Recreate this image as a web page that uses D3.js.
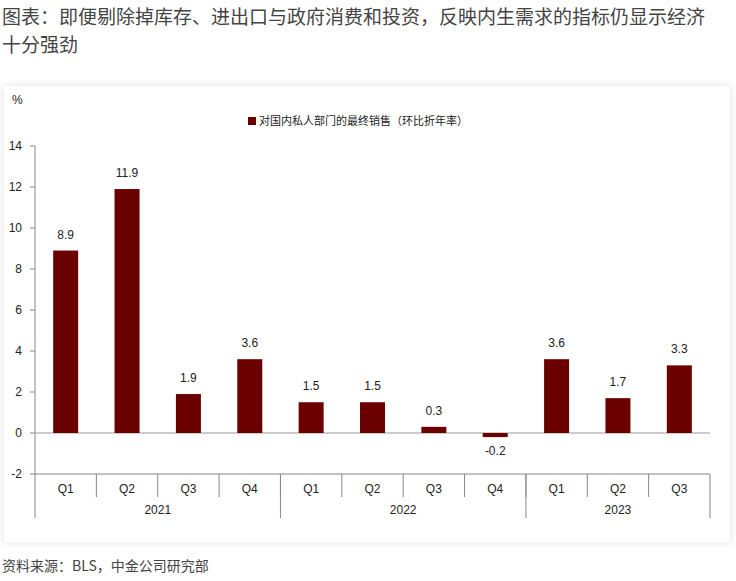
<!DOCTYPE html>
<html><head><meta charset="utf-8">
<script src="https://cdn.jsdelivr.net/npm/d3@7"></script>
<style>body{margin:0;background:#fff;font-family:"Noto Sans CJK SC","Noto Sans",sans-serif;}</style>
</head><body>
<script>
var quarters = ["Q1","Q2","Q3","Q4","Q1","Q2","Q3","Q4","Q1","Q2","Q3"];
var years = ["2021","2022","2023"];
var yearSpans = [4, 4, 3];
var values = [8.9, 11.9, 1.9, 3.6, 1.5, 1.5, 0.3, -0.2, 3.6, 1.7, 3.3];
var yTicks = [-2, 0, 2, 4, 6, 8, 10, 12, 14];

var svg = d3.select("body").append("svg").attr("width", 736).attr("height", 581);
var defs = svg.append("defs");
var f = defs.append("filter").attr("id","sh").attr("x","-5%").attr("y","-5%").attr("width","110%").attr("height","110%");
f.append("feDropShadow").attr("dx",0).attr("dy",0).attr("stdDeviation",4).attr("flood-color","#000").attr("flood-opacity",0.12);

svg.append("text").attr("x",2).attr("y",24).attr("font-size",19).attr("fill","#444")
  .text("图表：即便剔除掉库存、进出口与政府消费和投资，反映内生需求的指标仍显示经济");
svg.append("text").attr("x",2).attr("y",52).attr("font-size",19).attr("fill","#444").text("十分强劲");
svg.append("rect").attr("x",4).attr("y",86).attr("width",726).attr("height",456).attr("fill","#fff").attr("filter","url(#sh)");

var x = d3.scaleBand().domain(d3.range(quarters.length)).range([35, 710]);
var y = d3.scaleLinear().domain([-2, 14]).range([474, 146]);
var g = svg.append("g").attr("font-family","Arial,Liberation Sans,sans-serif");

g.append("line").attr("x1",35).attr("x2",35).attr("y1",146).attr("y2",474).attr("stroke","#888");
yTicks.forEach(function(t){
  g.append("line").attr("x1",30).attr("x2",35).attr("y1",y(t)).attr("y2",y(t)).attr("stroke","#888");
  g.append("text").attr("x",22).attr("y",y(t)+4).attr("text-anchor","end").attr("font-size",12).attr("fill","#222").text(t);
});
g.append("text").attr("x",12).attr("y",104).attr("font-size",12).attr("fill","#222").text("%");
g.append("line").attr("x1",35).attr("x2",710).attr("y1",y(0)).attr("y2",y(0)).attr("stroke","#999");
g.append("line").attr("x1",35).attr("x2",710).attr("y1",474).attr("y2",474).attr("stroke","#888");

g.selectAll(".bar").data(values).enter().append("rect")
  .attr("x", function(d,i){ return x(i)+x.bandwidth()/2-12.5; })
  .attr("width", 25)
  .attr("y", function(d){ return y(Math.max(0,d)); })
  .attr("height", function(d){ return Math.abs(y(d)-y(0)); })
  .attr("fill","#6b0000");
g.selectAll(".lbl").data(values).enter().append("text")
  .attr("x", function(d,i){ return x(i)+x.bandwidth()/2; })
  .attr("y", function(d){ return d>=0 ? y(d)-12 : y(d)+18; })
  .attr("text-anchor","middle").attr("font-size",12).attr("fill","#222").text(function(d){ return d.toFixed(1); });

quarters.forEach(function(q,i){
  g.append("text").attr("x",x(i)+x.bandwidth()/2).attr("y",493).attr("text-anchor","middle").attr("font-size",12).attr("fill","#222").text(q);
});
var idx = 0;
[0].concat(yearSpans).forEach(function(s,k){
  idx += s;
  var xx = idx < quarters.length ? x(idx) : 710;
  g.append("line").attr("x1",xx).attr("x2",xx).attr("y1",474).attr("y2",518).attr("stroke","#888");
});
for (var i=1;i<quarters.length;i++){
  g.append("line").attr("x1",x(i)).attr("x2",x(i)).attr("y1",474).attr("y2",497).attr("stroke","#888");
}
var start = 0;
years.forEach(function(yr,k){
  var a = x(start), b = start+yearSpans[k] < quarters.length ? x(start+yearSpans[k]) : 710;
  g.append("text").attr("x",(a+b)/2).attr("y",514).attr("text-anchor","middle").attr("font-size",12).attr("fill","#222").text(yr);
  start += yearSpans[k];
});

svg.append("rect").attr("x",248).attr("y",117).attr("width",8).attr("height",8).attr("fill","#6b0000");
svg.append("text").attr("x",259).attr("y",125).attr("font-size",11).attr("fill","#222").text("对国内私人部门的最终销售（环比折年率）");
svg.append("text").attr("x",2).attr("y",571).attr("font-size",14).attr("fill","#444").text("资料来源：BLS，中金公司研究部");
</script>
</body></html>
